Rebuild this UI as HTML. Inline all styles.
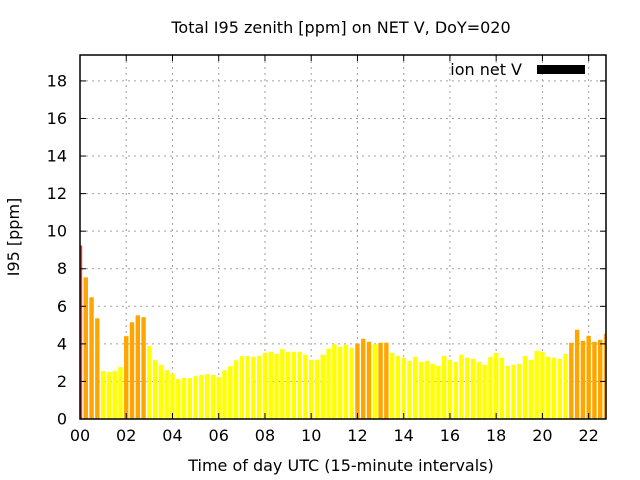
<!DOCTYPE html>
<html><head><meta charset="utf-8"><style>
body{margin:0;background:#fff;}
svg{display:block;font-family:"DejaVu Sans","Liberation Sans",sans-serif;}
</style></head><body>
<svg id="chart" width="640" height="480">
<text x="341" y="33" font-size="16" text-anchor="middle">Total I95 zenith [ppm] on NET V, DoY=020</text>
<text x="341" y="471" font-size="16" text-anchor="middle">Time of day UTC (15-minute intervals)</text>
<text x="19" y="237" font-size="16" text-anchor="middle" transform="rotate(-90 19 237)">I95 [ppm]</text>
<g id="grid"></g><g id="bars"></g><g id="axes"></g>
<g>
<text x="522" y="75" font-size="16" text-anchor="end">ion net V</text>
<rect x="537" y="65" width="48" height="9" fill="#000"></rect>
</g>
</svg>
<script>
const values = [9.24,7.54,6.48,5.36,2.55,2.5,2.55,2.76,4.41,5.15,5.52,5.42,3.88,3.13,2.87,2.6,2.42,2.12,2.18,2.18,2.28,2.34,2.39,2.34,2.23,2.6,2.81,3.13,3.35,3.35,3.31,
3.36,3.52,3.58,3.47,3.72,3.58,3.58,3.58,3.42,3.15,3.15,3.42,3.74,3.98,3.84,3.95,3.79,4.02,4.27,4.11,3.98,4.06,4.06,3.52,3.36,3.26,3.1,3.31,3.04,3.1,
2.94,2.83,3.36,3.15,3.04,3.42,3.26,3.2,3.04,2.88,3.31,3.52,3.26,2.83,2.88,2.94,3.36,3.15,3.63,3.58,3.31,3.26,3.2,3.47,4.06,4.75,4.16,4.43,4.11,4.22,4.54];
const xTickLabels = ["00","02","04","06","08","10","12","14","16","18","20","22"];
const yTickLabels = [0,2,4,6,8,10,12,14,16,18];
const L=80,R=606,T=55,B=419,XMAX=22.75,YMAX=19.38;
const xs=h=>L+(R-L)*h/XMAX, ys=v=>B-(B-T)*v/YMAX;
const NS="http://www.w3.org/2000/svg";
function mk(tag,attrs,parent){const e=document.createElementNS(NS,tag);for(const k in attrs)e.setAttribute(k,attrs[k]);document.getElementById(parent).appendChild(e);return e;}
const svgEl=document.getElementById('chart');
const cp=document.createElementNS(NS,'clipPath');cp.setAttribute('id','pc');
const cr=document.createElementNS(NS,'rect');cr.setAttribute('x',L);cr.setAttribute('y',T);cr.setAttribute('width',R-L);cr.setAttribute('height',B-T);cp.appendChild(cr);svgEl.appendChild(cp);
document.getElementById('bars').setAttribute('clip-path','url(#pc)');
xTickLabels.forEach((lab,i)=>{const x=xs(+lab);
 if(i>0){const g=mk('line',{x1:x,x2:x,y1:T,y2:B,stroke:'#a0a0a0','stroke-dasharray':'2,4'},'grid');
 
 }
 mk('line',{x1:x,x2:x,y1:B,y2:B-6,stroke:'#000'},'axes');
 mk('line',{x1:x,x2:x,y1:T,y2:T+6,stroke:'#000'},'axes');
 const t=mk('text',{x:x,y:B+22,'font-size':16,'text-anchor':'middle'},'axes');t.textContent=lab;
 
 
});
yTickLabels.forEach((v,i)=>{const y=ys(v);
 if(i>0){const g=mk('line',{x1:L,x2:R,y1:y,y2:y,stroke:'#a0a0a0','stroke-dasharray':'2,4'},'grid');
 
 }
 mk('line',{x1:L,x2:L+6,y1:y,y2:y,stroke:'#000'},'axes');
 mk('line',{x1:R,x2:R-6,y1:y,y2:y,stroke:'#000'},'axes');
 const t=mk('text',{x:L-13,y:y+5.5,'font-size':16,'text-anchor':'end'},'axes');t.textContent=v;
 
 
});
values.forEach((v,i)=>{const cx=xs(i*0.25),w=4.4;
 const col=v>9?'#f03c28':(v>4?'#ffa500':'#ffff00');
 const b=mk('rect',{x:cx-w/2,y:ys(v),width:w,height:B-ys(v),fill:col},'bars');
 
 
});
const fr=mk('rect',{x:L,y:T,width:R-L,height:B-T,fill:'none',stroke:'#000','stroke-width':1.5},'axes');


</script>
</body></html>
